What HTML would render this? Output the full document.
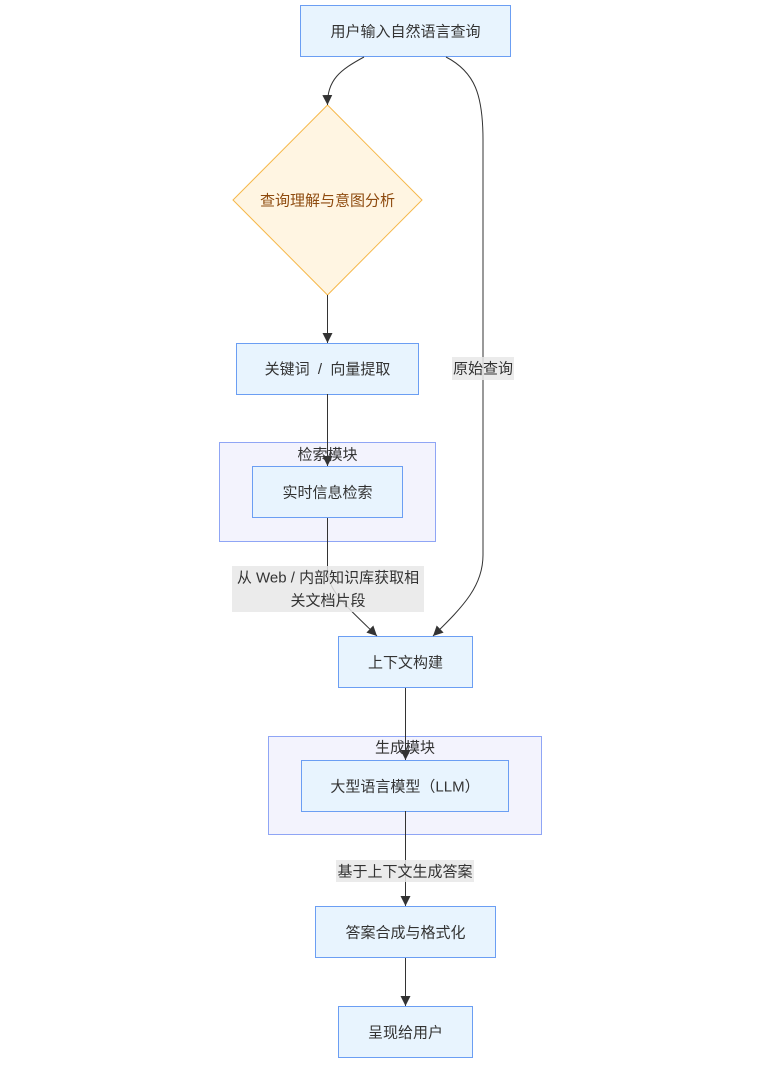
<!DOCTYPE html>
<html>
<head>
<meta charset="utf-8">
<style>
  html, body { margin: 0; padding: 0; background: #ffffff; }
  body { width: 760px; height: 1071px; overflow: hidden; }
  svg text { font-family: "Liberation Sans", "Noto Sans CJK SC", sans-serif; font-size: 15px; fill: #333333; }
</style>
</head>
<body>
<svg width="760" height="1071" viewBox="0 0 760 1071" xmlns="http://www.w3.org/2000/svg">
  <defs>
    <marker id="arr" viewBox="0 0 10 10" refX="10" refY="5" markerUnits="userSpaceOnUse" markerWidth="10" markerHeight="10" orient="auto">
      <path d="M0,0 L10,5 L0,10 z" fill="#333333"/>
    </marker>
  </defs>

  <!-- subgraphs -->
  <rect x="219.5" y="442.5" width="216" height="99" fill="#f3f3fd" stroke="#8fa5f5" stroke-width="1"/>
  <text x="327.5" y="455" text-anchor="middle" dominant-baseline="central">检索模块</text>
  <rect x="268.5" y="736.5" width="273" height="98" fill="#f3f3fd" stroke="#8fa5f5" stroke-width="1"/>
  <text x="405" y="748" text-anchor="middle" dominant-baseline="central">生成模块</text>

  <!-- nodes -->
  <rect x="300.5" y="5.5" width="210" height="51" fill="#e8f4fe" stroke="#6b9ef3" stroke-width="1"/>
  <text x="405.5" y="32" text-anchor="middle" dominant-baseline="central">用户输入自然语言查询</text>

  <polygon points="327.5,105 422,200 327.5,295 233,200" fill="#fff5e2" stroke="#f6b84a" stroke-width="1"/>
  <text x="327.5" y="201" text-anchor="middle" dominant-baseline="central" style="fill:#8e4a0e">查询理解与意图分析</text>

  <rect x="236.5" y="343.5" width="182" height="51" fill="#e8f4fe" stroke="#6b9ef3" stroke-width="1"/>
  <text x="327.5" y="369.5" text-anchor="middle" dominant-baseline="central" xml:space="preserve">关键词  /  向量提取</text>

  <rect x="252.5" y="466.5" width="150" height="51" fill="#e8f4fe" stroke="#6b9ef3" stroke-width="1"/>
  <text x="327.5" y="493" text-anchor="middle" dominant-baseline="central">实时信息检索</text>

  <rect x="338.5" y="636.5" width="134" height="51" fill="#e8f4fe" stroke="#6b9ef3" stroke-width="1"/>
  <text x="405.5" y="663" text-anchor="middle" dominant-baseline="central">上下文构建</text>

  <rect x="301.5" y="760.5" width="207" height="51" fill="#e8f4fe" stroke="#6b9ef3" stroke-width="1"/>
  <text x="405" y="787" text-anchor="middle" dominant-baseline="central">大型语言模型（LLM）</text>

  <rect x="315.5" y="906.5" width="180" height="51" fill="#e8f4fe" stroke="#6b9ef3" stroke-width="1"/>
  <text x="405.5" y="933" text-anchor="middle" dominant-baseline="central">答案合成与格式化</text>

  <rect x="338.5" y="1006.5" width="134" height="51" fill="#e8f4fe" stroke="#6b9ef3" stroke-width="1"/>
  <text x="405.5" y="1033" text-anchor="middle" dominant-baseline="central">呈现给用户</text>

  <!-- edges -->
  <g fill="none" stroke="#333333" stroke-width="1" marker-end="url(#arr)">
    <path d="M364,57 C340,70 327,80 327.5,105"/>
    <path d="M446,57 C475,72 483,95 483,140 L483,555 C483,585 465,605 433,636"/>
    <path d="M327.5,295 L327.5,343"/>
    <path d="M327.5,394 L327.5,466"/>
    <path d="M327.5,518 L327.5,570 C327.5,590 345,605 377,636"/>
    <path d="M405.5,688 L405.5,760"/>
    <path d="M405.5,811 L405.5,906"/>
    <path d="M405.5,958 L405.5,1006"/>
  </g>

  <!-- edge labels -->
  <rect x="452" y="357" width="62" height="23" fill="#e8e8e8" opacity="0.85"/>
  <text x="483" y="369" text-anchor="middle" dominant-baseline="central">原始查询</text>

  <rect x="232" y="566" width="192" height="46" fill="#e8e8e8" opacity="0.85"/>
  <text x="328" y="578" text-anchor="middle" dominant-baseline="central">从 Web / 内部知识库获取相</text>
  <text x="328" y="601" text-anchor="middle" dominant-baseline="central">关文档片段</text>

  <rect x="336" y="860" width="138" height="22" fill="#e8e8e8" opacity="0.85"/>
  <text x="405" y="872" text-anchor="middle" dominant-baseline="central">基于上下文生成答案</text>
</svg>
</body>
</html>
